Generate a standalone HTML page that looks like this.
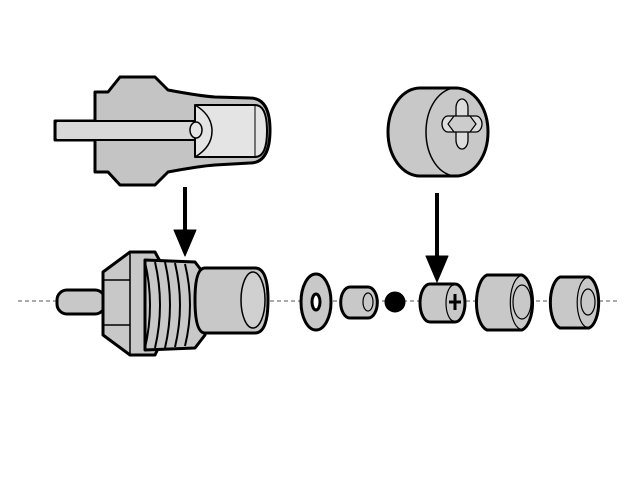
<!DOCTYPE html><html><head><style>body{margin:0;background:#fff}</style></head><body>
<svg width="638" height="472" viewBox="0 0 638 472" xmlns="http://www.w3.org/2000/svg" stroke="#000" stroke-linejoin="round">
<line x1="18" y1="301" x2="618" y2="301" stroke="#555" stroke-width="1" stroke-dasharray="4,3"/>
<!-- top-left connector -->
<path d="M95,92 L108,92 L120,77 L155,77 L168,90 Q200,96 215,97 L250,98 Q270,98 270,130 Q270,163 250,163 L215,165 Q200,166 168,172 L155,185 L120,185 L108,172 L95,172 L95,140 L55,140 L55,121 L95,121 Z" fill="#c4c4c4" stroke-width="3"/>
<rect x="57" y="122" width="138" height="17" fill="#d8d8d8" stroke="none"/>
<line x1="95" y1="121" x2="195" y2="121" stroke-width="2"/><line x1="95" y1="140" x2="195" y2="140" stroke-width="2"/>
<path d="M195,105 L255,105 Q267,105 267,131 Q267,157 255,157 L195,157 Z" fill="#e4e4e4" stroke-width="2"/>
<path d="M195,105 Q212,115 212,131 Q212,147 195,157" fill="none" stroke-width="1.5"/>
<ellipse cx="196" cy="130" rx="6" ry="8" fill="#e4e4e4" stroke-width="1.5"/>
<line x1="255" y1="105" x2="255" y2="157" stroke-width="1"/>
<!-- arrows -->
<line x1="185" y1="187" x2="185" y2="232" stroke-width="4"/>
<polygon points="174,230 196,230 185,256" fill="#000"/>
<line x1="437" y1="193" x2="437" y2="258" stroke-width="4"/>
<polygon points="426,256 448,256 437,282" fill="#000"/>
<!-- sensor -->
<rect x="57" y="290" width="48" height="24" rx="10" fill="#c8c8c8" stroke-width="3"/>
<path d="M103,272 L130,252 L155,252 L162,265 L162,340 L155,355 L130,355 L103,335 Z" fill="#c8c8c8" stroke-width="3"/>
<line x1="103" y1="280" x2="130" y2="280" stroke-width="1.5"/><line x1="103" y1="325" x2="130" y2="325" stroke-width="1.5"/>
<line x1="130" y1="252" x2="130" y2="355" stroke-width="1.5"/>
<path d="M145,260 L195,262 L205,275 L205,335 L195,348 L145,350 Z" fill="#c8c8c8" stroke-width="3"/>
<g fill="none" stroke-width="2"><path d="M145,262 Q155,305 145,348"/><path d="M155,262 Q165,305 155,348"/><path d="M165,262 Q175,305 165,348"/><path d="M175,263 Q185,305 175,347"/><path d="M185,264 Q195,305 185,346"/></g>
<path d="M205,268 L255,268 Q268,268 268,300 Q268,333 255,333 L205,333 Q195,333 195,300 Q195,268 205,268 Z" fill="#c8c8c8" stroke-width="3"/>
<ellipse cx="253" cy="300" rx="12" ry="28" fill="#d0d0d0" stroke-width="1.5"/>
<!-- top right cap -->
<path d="M420,88 L456,88 A32,44 0 0 1 456,176 L420,176 A32,44 0 0 1 420,88 Z" fill="#c8c8c8" stroke-width="3"/>
<path d="M456,88 A30,44 0 0 0 456,176" fill="none" stroke-width="1.5"/>
<path d="M456,108 a6,9 0 0 1 12,0 l0,8 l8,0 a6,8 0 0 1 0,16 l-8,0 l0,8 a6,9 0 0 1 -12,0 l0,-8 l-8,0 a6,8 0 0 1 0,-16 l8,0 Z" fill="#ddd" stroke-width="1.3"/>
<polygon points="454,116 470,116 476,124 470,132 454,132 448,124" fill="#ccc" stroke-width="1.2"/>
<!-- bottom row -->
<ellipse cx="316" cy="302" rx="15" ry="28" fill="#c8c8c8" stroke-width="3"/>
<ellipse cx="316" cy="302" rx="4" ry="8" fill="#fff" stroke-width="3"/>
<path d="M350,287 L368,287 A9,15 0 0 1 368,318 L350,318 A9,15 0 0 1 350,287 Z" fill="#c8c8c8" stroke-width="3"/>
<ellipse cx="368" cy="302" rx="5" ry="9" fill="none" stroke-width="1.2"/>
<circle cx="395" cy="302" r="10" fill="#000"/>
<path d="M430,284 L455,284 A10,19 0 0 1 455,322 L430,322 A10,19 0 0 1 430,284 Z" fill="#c8c8c8" stroke-width="3"/>
<path d="M454,285 A8,18 0 0 0 454,321" fill="none" stroke-width="1.2"/>
<path d="M455,294 v16 M449,302 h12" stroke-width="3"/>
<path d="M487,275 L522,275 A13,28 0 0 1 522,330 L487,330 A13,28 0 0 1 487,275 Z" fill="#c8c8c8" stroke-width="3"/>
<path d="M520,276 A12,27 0 0 0 520,329" fill="none" stroke-width="1.2"/>
<ellipse cx="522" cy="302" rx="9" ry="17" fill="none" stroke-width="1.2"/>
<path d="M560,277 L589,277 A12,26 0 0 1 589,328 L560,328 A12,26 0 0 1 560,277 Z" fill="#c8c8c8" stroke-width="3"/>
<path d="M586,278 A11,25 0 0 0 586,327" fill="none" stroke-width="1.2"/>
<ellipse cx="588" cy="302" rx="7" ry="13" fill="none" stroke-width="1.2"/>
</svg>
</body></html>
